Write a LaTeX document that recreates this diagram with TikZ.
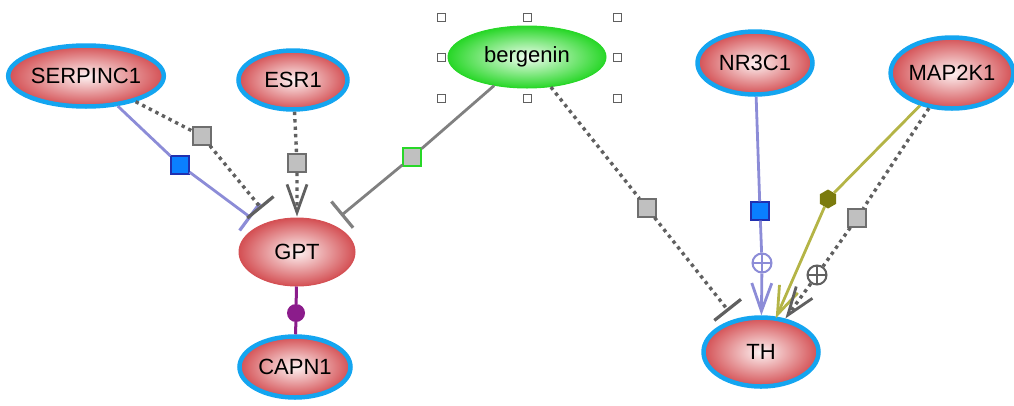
\documentclass[tikz,border=0pt]{standalone}
\usepackage{fontspec}
\setmainfont{Liberation Sans}
\usetikzlibrary{shapes.geometric,arrows.meta}

\definecolor{ringblue}{RGB}{20,165,240}
\definecolor{redin}{RGB}{253,242,242}
\definecolor{redout}{RGB}{212,80,84}
\definecolor{greenin}{RGB}{240,253,240}
\definecolor{greenout}{RGB}{40,215,40}
\definecolor{linkblue}{RGB}{140,140,215}
\definecolor{linkgrey}{RGB}{128,128,128}
\definecolor{dotgrey}{RGB}{96,96,96}
\definecolor{olive}{RGB}{180,180,70}
\definecolor{olivedark}{RGB}{123,123,14}
\definecolor{plum}{RGB}{139,28,139}
\definecolor{sqblue}{RGB}{10,128,255}
\definecolor{sqblueline}{RGB}{32,48,176}
\definecolor{sqgrey}{RGB}{192,192,192}
\definecolor{sqgreyline}{RGB}{110,110,110}

\tikzset{
  gene/.style={ellipse, draw=ringblue, line width=4.5pt, inner sep=0pt,
    inner color=redin, outer color=redout, font=\fontsize{22}{26}\selectfont},
  plaingene/.style={gene, draw=redout, line width=1pt},
  drug/.style={gene, draw=greenout, line width=1pt, inner color=greenin, outer color=greenout},
  handle/.style={rectangle, draw=dotgrey, fill=white, line width=1pt, minimum size=8pt, inner sep=0pt},
  bsq/.style={rectangle, draw=sqblueline, fill=sqblue, line width=1.2pt, minimum size=18pt, inner sep=0pt},
  gsq/.style={rectangle, draw=sqgreyline, fill=sqgrey, line width=1.2pt, minimum size=18pt, inner sep=0pt},
  greensq/.style={gsq, draw=greenout},
  hexa/.style={regular polygon, regular polygon sides=6, shape border rotate=90,
    fill=olivedark, minimum size=19pt, inner sep=0pt},
  pdot/.style={circle, fill=plum, minimum size=18pt, inner sep=0pt},
  oplus/.style={circle, draw, fill=white, line width=2pt, minimum size=19pt, inner sep=0pt,
    path picture={\draw[line width=2pt]
      (path picture bounding box.north) -- (path picture bounding box.south)
      (path picture bounding box.west) -- (path picture bounding box.east);}},
  bluelink/.style={draw=linkblue, line width=2.8pt},
  greylink/.style={draw=linkgrey, line width=2.8pt},
  dotlink/.style={draw=dotgrey, line width=3.4pt, dash pattern=on 3.4pt off 4pt},
  olivelink/.style={draw=olive, line width=2.8pt},
  plumlink/.style={draw=plum, line width=3pt},
  inhibit/.style={-{Bar[width=34pt,line width=3.2pt]}},
  activate/.style={-{Straight Barb[length=28pt,width=20pt,line width=2.8pt]}},
}

\begin{document}
\begin{tikzpicture}[x=1pt,y=-1pt]
  \useasboundingbox (0,0) rectangle (1014,405);

  % genes and compound
  \node[gene, minimum width=151pt, minimum height=61pt] (serp) at (86,76) {SERPINC1};
  \node[gene, minimum width=109pt, minimum height=59pt] (esr) at (293,80) {ESR1};
  \node[plaingene, minimum width=116pt, minimum height=68pt] (gpt) at (297,252) {GPT};
  \node[gene, minimum width=111pt, minimum height=61pt] (capn) at (295,367) {CAPN1};
  \node[drug, minimum width=158pt, minimum height=62pt] (berg) at (527,57) {bergenin};
  \node[gene, minimum width=115pt, minimum height=63pt] (nr) at (755,63) {NR3C1};
  \node[gene, minimum width=119pt, minimum height=71pt] (map) at (952,73) {MAP2K1};
  \node[gene, minimum width=115pt, minimum height=69pt] (th) at (761,352) {TH};

  % selection handles
  \foreach \p [count=\i] in {(441,17),(527,17),(617,17),(441,57),(617,57),(441,98),(527,98),(617,98)}
    \node[handle] (h\i) at \p {};

  % edge markers
  \node[bsq] (m1) at (180,165) {};
  \node[gsq] (m2) at (202,136) {};
  \node[gsq] (m3) at (297,163) {};
  \node[greensq] (m4) at (412,157) {};
  \node[gsq] (m5) at (647,208) {};
  \node[bsq] (m6) at (760,211) {};
  \node[oplus, draw=linkblue] (op1) at (762,263) {};
  \node[hexa] (hx) at (828,199) {};
  \node[gsq] (m7) at (857,218) {};
  \node[oplus, draw=dotgrey] (op2) at (817,275) {};
  \node[pdot] (pd) at (296,313) {};

  % edges
  \draw[bluelink, inhibit, shorten >=12pt] (serp) -- (m1) -- (gpt);
  \draw[dotlink, -{Bar[width=34pt,line width=3.2pt,color=dotgrey]}, shorten >=16pt] (serp) -- (m2) -- (gpt);
  \draw[dotlink, activate, shorten >=1pt] (esr) -- (m3) -- (gpt);
  \draw[greylink, inhibit, shorten >=13pt] (berg) -- (m4) -- (gpt);
  \draw[dotlink, inhibit, shorten >=10pt] (berg) -- (m5) -- (th);
  \draw[bluelink, activate] (nr) -- (m6) -- (op1) -- (th);
  \draw[olivelink, activate, shorten >=-2pt] (map) -- (hx) -- (th);
  \draw[dotlink, activate] (map) -- (m7) -- (op2) -- (th);
  \draw[plumlink] (gpt) -- (pd) -- (capn);
\end{tikzpicture}
\end{document}
